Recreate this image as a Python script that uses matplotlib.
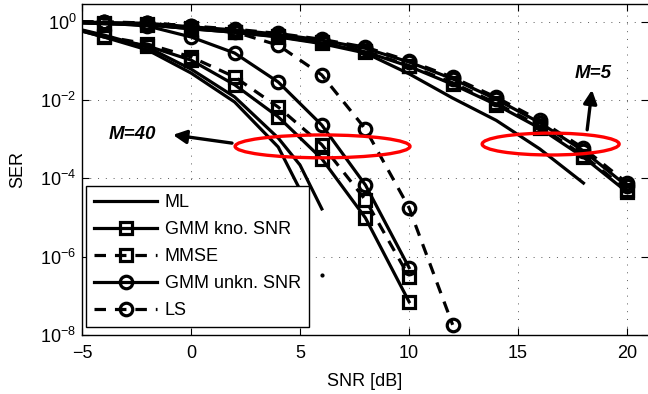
import matplotlib
matplotlib.use('Agg')
import matplotlib.pyplot as plt
from matplotlib.patches import Ellipse
from matplotlib.ticker import NullLocator
import numpy as np

plt.rcParams['font.family'] = ['Liberation Sans', 'DejaVu Sans']
plt.rcParams['mathtext.default'] = 'regular'

# SNR grids [dB]
snr_m5 = [-5, -4, -2, 0, 2, 4, 6, 8, 10, 12, 14, 16, 18, 20]
snr_m5_ml = [-5, -4, -2, 0, 2, 4, 6, 8, 10, 12, 14, 16, 18]
snr_m40 = [-5, -4, -2, 0, 2, 4, 6, 8, 10]
snr_m40_ls = [-5, -4, -2, 0, 2, 4, 6, 8, 10, 12]
snr_m40_ml = [-5, -4, -2, 0, 2, 4, 5, 6]
snr_m40_ml2 = [-5, -4, -2, 0, 2, 4, 5]

# log10(SER), M=5
ml_m5 = [-0.03, -0.05, -0.08, -0.18, -0.27, -0.39, -0.56, -0.80, -1.33, -1.95, -2.52, -3.25, -4.12]
gmmk_m5 = [-0.03, -0.05, -0.08, -0.18, -0.27, -0.38, -0.54, -0.77, -1.14, -1.60, -2.12, -2.72, -3.46, -4.35]
mmse_m5 = [-0.02, -0.04, -0.07, -0.17, -0.25, -0.37, -0.52, -0.75, -1.12, -1.56, -2.08, -2.67, -3.42, -4.30]
gmmu_m5 = [-0.01, -0.02, -0.04, -0.13, -0.21, -0.32, -0.47, -0.68, -1.03, -1.46, -1.98, -2.58, -3.30, -4.20]
ls_m5 = [0.0, -0.01, -0.03, -0.11, -0.19, -0.30, -0.45, -0.65, -1.00, -1.42, -1.93, -2.52, -3.23, -4.12]

# log10(SER), M=40
ml_m40 = [-0.21, -0.34, -0.65, -1.21, -1.92, -2.97, -3.66, -4.78]
ml2_m40 = [-0.24, -0.39, -0.72, -1.31, -2.05, -3.20, -4.29]
gmmk_m40 = [-0.24, -0.39, -0.62, -0.98, -1.61, -2.43, -3.50, -5.01, -7.15]
mmse_m40 = [-0.22, -0.37, -0.57, -0.90, -1.41, -2.18, -3.14, -4.55, -6.51]
gmmu_m40 = [-0.01, -0.03, -0.11, -0.39, -0.80, -1.54, -2.64, -4.17, -6.28]
ls_m40 = [0.0, -0.01, -0.03, -0.11, -0.26, -0.60, -1.36, -2.74, -4.75, -7.74]
dot_snr, dot_ser = 6, -6.46

fig = plt.figure(figsize=(6.48, 3.94), dpi=100)
ax = fig.add_axes([82/648, 59/394, 566/648, 331.5/394])

lw = 2.3
dash = (3.6, 2.8)
sq = dict(marker='s', ms=8.5, mew=2.3, mfc='none', mec='k', markevery=slice(1, None))
ci = dict(marker='o', ms=9, mew=2.3, mfc='none', mec='k', markevery=slice(1, None))

def p(x, y):
    return np.array(x), 10.0 ** np.array(y)

# M=5 group
ax.plot(*p(snr_m5_ml, ml_m5), 'k-', lw=lw)
ax.plot(*p(snr_m5, gmmk_m5), 'k-', lw=lw, **sq)
ax.plot(*p(snr_m5, mmse_m5), 'k--', lw=lw, dashes=dash, **sq)
ax.plot(*p(snr_m5, gmmu_m5), 'k-', lw=lw, **ci)
ax.plot(*p(snr_m5, ls_m5), 'k--', lw=lw, dashes=dash, **ci)

# M=40 group
h_ml, = ax.plot(*p(snr_m40_ml, ml_m40), 'k-', lw=lw, label='ML')
ax.plot(*p(snr_m40_ml2, ml2_m40), 'k-', lw=lw)
h_gk, = ax.plot(*p(snr_m40, gmmk_m40), 'k-', lw=lw, label='GMM kno. SNR', **sq)
h_mm, = ax.plot(*p(snr_m40, mmse_m40), 'k--', lw=lw, dashes=dash, label='MMSE', **sq)
h_gu, = ax.plot(*p(snr_m40, gmmu_m40), 'k-', lw=lw, label='GMM unkn. SNR', **ci)
h_ls, = ax.plot(*p(snr_m40_ls, ls_m40), 'k--', lw=lw, dashes=dash, label='LS', **ci)
ax.plot([dot_snr], [10.0 ** dot_ser], 'k.', ms=4)

ax.set_yscale('log')
ax.set_xlim(-5, 20.96)
ax.set_ylim(1e-8, 10 ** 0.465)
ax.set_xticks([-5, 0, 5, 10, 15, 20])
ax.set_yticks([1e-8, 1e-6, 1e-4, 1e-2, 1e0])
ax.set_yticklabels(['10$^{-8}$', '10$^{-6}$', '10$^{-4}$', '10$^{-2}$', '10$^{0}$'])
ax.yaxis.set_minor_locator(NullLocator())
ax.tick_params(which='both', direction='in', top=True, right=True, length=5, width=0.8, labelsize=13)
ax.tick_params(axis='x', pad=7)
ax.tick_params(axis='y', pad=4)
ax.spines['right'].set_visible(False)
for s in ['left', 'top', 'bottom']:
    ax.spines[s].set_linewidth(1.0)
ax.grid(True, which='major', color='0.35', lw=0.7, linestyle=(0, (1, 7)))

ax.set_xlabel('SNR [dB]', fontsize=13, labelpad=8)
ax.set_ylabel('SER', fontsize=13, labelpad=10)

# red ellipses
ax.add_patch(Ellipse((0.425, 0.569), 0.309, 0.069, transform=ax.transAxes,
                     fill=False, ec='#ff0000', lw=2.4, zorder=5))
ax.add_patch(Ellipse((0.828, 0.576), 0.242, 0.066, transform=ax.transAxes,
                     fill=False, ec='#ff0000', lw=2.4, zorder=5))

# annotations
arrow = dict(arrowstyle='-|>,head_length=0.8,head_width=0.4', lw=2.4, color='k',
             shrinkA=0, shrinkB=0)
ax.annotate('', xy=(-0.83, 10 ** -2.89), xytext=(1.88, 10 ** -3.10), arrowprops=arrow, zorder=6)
ax.annotate('', xy=(18.39, 10 ** -1.74), xytext=(18.17, 10 ** -2.76), arrowprops=arrow, zorder=6)
ax.text(-2.71, 10 ** -2.89, 'M=40', fontsize=13.5, weight='bold', style='italic',
        ha='center', va='center')
ax.text(18.44, 10 ** -1.335, 'M=5', fontsize=13.5, weight='bold', style='italic',
        ha='center', va='center')

leg = ax.legend(handles=[h_ml, h_gk, h_mm, h_gu, h_ls], loc='lower left',
                bbox_to_anchor=(0.007, 0.024), fontsize=13, handlelength=3.5,
                handletextpad=0.4, labelspacing=0.55, borderpad=0.45,
                borderaxespad=0, fancybox=False, framealpha=1, edgecolor='k')
leg.get_frame().set_linewidth(1.0)
leg.set_zorder(10)

fig.savefig('out.png', dpi=100)
